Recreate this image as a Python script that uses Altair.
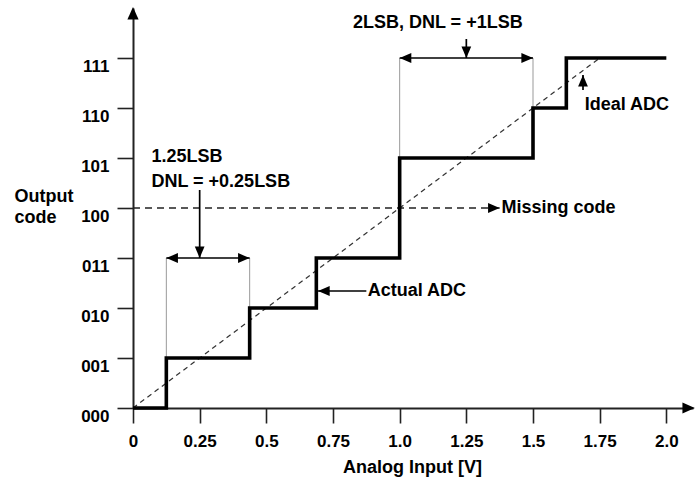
import altair as alt
import pandas as pd

FONT = "Liberation Sans"

# ---- data ----
x_ticks = [0, 0.25, 0.5, 0.75, 1.0, 1.25, 1.5, 1.75, 2.0]
x_tick_labels = ["0", "0.25", "0.5", "0.75", "1.0", "1.25", "1.5", "1.75", "2.0"]
codes = [0, 1, 2, 3, 4, 5, 6, 7]
code_labels = ["000", "001", "010", "011", "100", "101", "110", "111"]

actual_x = [0, 0.125, 0.4375, 0.6875, 1.0, 1.5, 1.625, 2.0]
actual_code = [0, 1, 2, 3, 5, 6, 7, 7]

ideal_x = [0, 1.75]
ideal_code = [0, 7]

missing_level = 4
missing_x = [0, 1.375]

# bracket guide lines (thin grey): x, from code, to code
guide_x = [0.125, 0.4375, 1.0, 1.5]
guide_y1 = [1, 2, 5, 6]
guide_y2 = [3, 3, 7, 7]

# arrow shafts: x1, y1, x2, y2 (tip at x2, y2)
shaft_x1 = [0.125, 0.25, 1.0, 1.25, 0.875, 1.6875]
shaft_y1 = [3, 4.36, 7, 7.38, 2.34, 6.36]
shaft_x2 = [0.4375, 0.25, 1.5, 1.25, 0.694, 1.6875]
shaft_y2 = [3, 3, 7, 7, 2.34, 6.66]

# arrow heads: x, y, direction angle (0 right, 90 down, 180 left, 270 up)
head_x = [0.125, 0.4375, 0.25, 1.0, 1.5, 1.25, 0.694, 1.6875, 1.375]
head_y = [3, 3, 3, 7, 7, 7, 2.34, 6.66, 4]
head_angle = [180, 0, 90, 180, 0, 90, 180, 270, 0]

# axis arrow heads
axis_head_x = [2.107, 0]
axis_head_y = [0, 8.02]
axis_head_angle = [0, 270]

# annotation texts
left_texts = ["1.25LSB", "DNL = +0.25LSB", "Ideal ADC", "Actual ADC", "Missing code"]
left_x = [0.069, 0.069, 1.694, 0.88, 1.382]
left_y = [4.93, 4.43, 5.97, 2.25, 3.91]
center_texts = ["2LSB, DNL = +1LSB"]
center_x = [1.143]
center_y = [7.61]

# ---- frames ----
actual_df = pd.DataFrame({"x": actual_x, "y": actual_code})
ideal_df = pd.DataFrame({"x": ideal_x, "y": ideal_code})
missing_df = pd.DataFrame({"x": missing_x, "y": [missing_level] * len(missing_x)})
guide_df = pd.DataFrame({"x": guide_x, "y": guide_y1, "y2": guide_y2})
shaft_df = pd.DataFrame({"x": shaft_x1, "y": shaft_y1, "x2": shaft_x2, "y2": shaft_y2})
head_df = pd.DataFrame({"x": head_x, "y": head_y, "angle": head_angle})
axis_head_df = pd.DataFrame({"x": axis_head_x, "y": axis_head_y, "angle": axis_head_angle})
left_df = pd.DataFrame({"t": left_texts, "x": left_x, "y": left_y})
center_df = pd.DataFrame({"t": center_texts, "x": center_x, "y": center_y})

xs = alt.Scale(domain=[0, 2.1], nice=False, zero=False)
ys = alt.Scale(domain=[0, 8], nice=False, zero=False)

x_label_expr = "[" + ",".join("'%s'" % s for s in x_tick_labels) + "][round(datum.value*4)]"
y_label_expr = "[" + ",".join("'%s'" % s for s in code_labels) + "][round(datum.value)]"

x_axis = alt.Axis(
    values=x_ticks, labelExpr=x_label_expr, title="Analog Input [V]",
    titleX=279, titleY=64, titleBaseline="alphabetic", titleAlign="center",
    titleFont=FONT, titleFontSize=18, titleFontWeight="bold", titleColor="black",
    labelFont=FONT, labelFontSize=17, labelFontWeight="bold", labelColor="black",
    labelPadding=10, labelOverlap=False, labelFlush=False,
    tickSize=15, tickWidth=1.6, tickColor="#222",
    domainColor="#222", domainWidth=2, grid=False,
)
y_axis = alt.Axis(
    values=codes, labelExpr=y_label_expr, title=["Output", "code"],
    titleAngle=0, titleAlign="left", titleBaseline="alphabetic",
    titleX=-119, titleY=193.5, titleLineHeight=21,
    titleFont=FONT, titleFontSize=18, titleFontWeight="bold", titleColor="black",
    labelFont=FONT, labelFontSize=17, labelFontWeight="bold", labelColor="black",
    labelPadding=8, labelBaseline="top", labelOverlap=False, labelFlush=False,
    tickSize=16, tickWidth=1.6, tickColor="#222",
    domainColor="#222", domainWidth=2, grid=False,
)


def X(field="x"):
    return alt.X(field + ":Q", scale=xs, axis=x_axis)


def Y(field="y"):
    return alt.Y(field + ":Q", scale=ys, axis=y_axis)


actual = alt.Chart(actual_df).mark_line(
    color="black", strokeWidth=3.6, interpolate="step-after", strokeJoin="miter"
).encode(x=X(), y=Y())

ideal = alt.Chart(ideal_df).mark_line(
    color="#333", strokeWidth=1.2, strokeDash=[5, 4]
).encode(x=X(), y=Y())

missing = alt.Chart(missing_df).mark_line(
    color="#222", strokeWidth=1.6, strokeDash=[7, 5]
).encode(x=X(), y=Y())

guides = alt.Chart(guide_df).mark_rule(color="#999", strokeWidth=1).encode(
    x=X(), y=Y(), y2="y2:Q",
)

shafts = alt.Chart(shaft_df).mark_rule(color="black", strokeWidth=1.7).encode(
    x=X(), y=Y(), x2="x2:Q", y2="y2:Q",
)

heads = alt.Chart(head_df).mark_point(
    shape="M0,0L-1,-0.42L-1,0.42Z", filled=True, color="black", opacity=1, size=540, strokeWidth=0
).encode(x=X(), y=Y(), angle=alt.Angle("angle:Q", scale=None))

axis_heads = alt.Chart(axis_head_df).mark_point(
    shape="M0,0L-1,-0.45L-1,0.45Z", filled=True, color="black", opacity=1, size=620, strokeWidth=0
).encode(x=X(), y=Y(), angle=alt.Angle("angle:Q", scale=None))

left_txt = alt.Chart(left_df).mark_text(
    align="left", baseline="alphabetic", font=FONT, fontSize=18, fontWeight="bold", color="black"
).encode(x=X(), y=Y(), text="t:N")

center_txt = alt.Chart(center_df).mark_text(
    align="center", baseline="alphabetic", font=FONT, fontSize=18, fontWeight="bold", color="black"
).encode(x=X(), y=Y(), text="t:N")

chart = alt.layer(
    guides, ideal, missing, actual, shafts, heads, axis_heads, left_txt, center_txt
).properties(
    width=560, height=400,
    padding={"left": 133, "top": 8, "right": 2, "bottom": 71},
    autosize="none",
    background="white",
).configure_view(stroke=None)

chart.save("out.html", embed_options={"renderer": "svg", "actions": False})
